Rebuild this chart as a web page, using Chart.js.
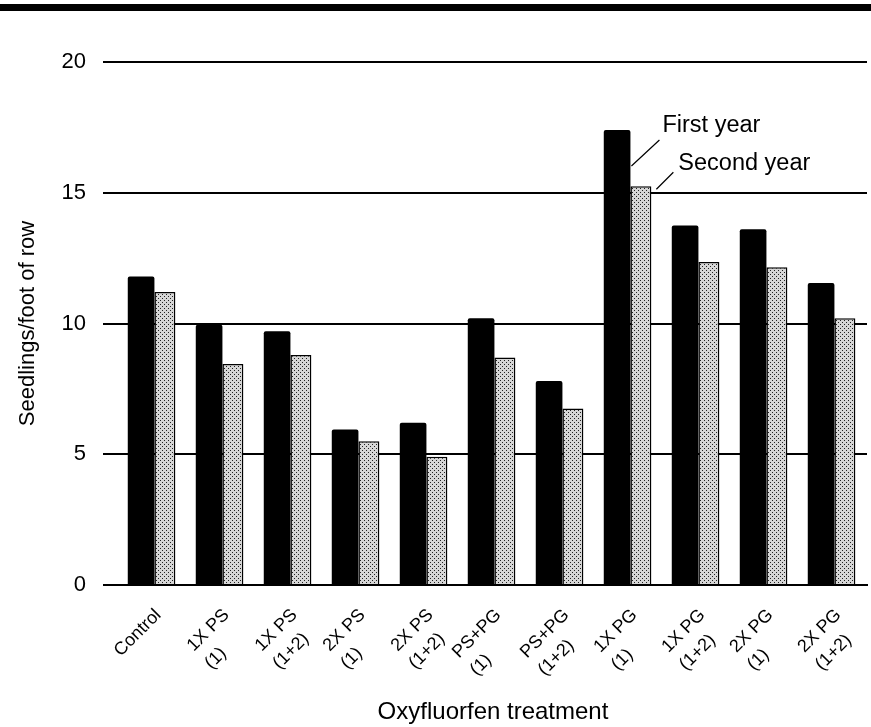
<!DOCTYPE html>
<html>
<head>
<meta charset="utf-8">
<script src="https://cdn.jsdelivr.net/npm/chart.js@4/dist/chart.umd.min.js"></script>
<style>
  html, body { margin: 0; padding: 0; background: #fff; }
  #wrap { position: relative; width: 871px; height: 727px; }
  #rule { position: absolute; left: 0; top: 4px; width: 871px; height: 7px; background: #000; }
</style>
</head>
<body>
<div id="wrap">
  <div id="rule"></div>
  <canvas id="c"></canvas>
</div>
<script>
// ---- data ----
const categories = [
  ['Control'],
  ['1X PS', '(1)'],
  ['1X PS', '(1+2)'],
  ['2X PS', '(1)'],
  ['2X PS', '(1+2)'],
  ['PS+PG', '(1)'],
  ['PS+PG', '(1+2)'],
  ['1X PG', '(1)'],
  ['1X PG', '(1+2)'],
  ['2X PG', '(1)'],
  ['2X PG', '(1+2)']
];
const firstYear  = [11.8, 9.95, 9.7, 5.95, 6.2, 10.2, 7.8, 17.4, 13.75, 13.6, 11.55];
const secondYear = [11.2, 8.45, 8.8, 5.5, 4.9, 8.7, 6.75, 15.25, 12.35, 12.15, 10.2];
const seriesNames = ['First year', 'Second year'];
const yTicks = [0, 5, 10, 15, 20];
const yTitle = 'Seedlings/foot of row';
const xTitle = 'Oxyfluorfen treatment';
const annotatedCategory = 7; // 1X PG (1)

const FONT = "'Liberation Sans', Arial, Helvetica, sans-serif";
Chart.defaults.font.family = FONT;
Chart.defaults.color = '#000';

function makeStipple() {
  const c = document.createElement('canvas');
  c.width = 4; c.height = 4;
  const g = c.getContext('2d');
  g.fillStyle = '#d6d6d6';
  g.fillRect(0, 0, 4, 4);
  g.fillStyle = '#222';
  g.fillRect(0, 0, 1, 1);
  g.fillRect(2, 2, 1, 1);
  return g.createPattern(c, 'repeat');
}

const annotationPlugin = {
  id: 'seriesNotes',
  afterDatasetsDraw(chart) {
    const ctx = chart.ctx;
    const b1 = chart.getDatasetMeta(0).data[annotatedCategory];
    const b2 = chart.getDatasetMeta(1).data[annotatedCategory];
    if (!b1 || !b2) return;
    const r1 = b1.x + b1.width / 2, t1 = b1.y;
    const r2 = b2.x + b2.width / 2, t2 = b2.y;
    ctx.save();
    ctx.strokeStyle = '#000';
    ctx.lineWidth = 1.2;
    ctx.beginPath();
    ctx.moveTo(r1 + 1, t1 + 36);
    ctx.lineTo(r1 + 29, t1 + 10);
    ctx.moveTo(r2 + 5, t2 + 3);
    ctx.lineTo(r2 + 22, t2 - 14);
    ctx.stroke();
    ctx.fillStyle = '#000';
    ctx.font = '23.5px ' + FONT;
    ctx.textAlign = 'left';
    ctx.textBaseline = 'alphabetic';
    ctx.fillText(seriesNames[0], r1 + 32, t1 + 2);
    ctx.fillText(seriesNames[1], r2 + 27, t2 - 16);
    ctx.restore();
  }
};

// rotated category labels: first line ends at the tick, next lines left-aligned under it
const xLabelPlugin = {
  id: 'xLabels',
  afterDraw(chart) {
    const sx = chart.scales.x;
    const ctx = chart.ctx;
    ctx.save();
    ctx.font = '18px ' + FONT;
    ctx.fillStyle = '#000';
    categories.forEach((lines, i) => {
      const px = sx.getPixelForTick(i);
      ctx.save();
      ctx.translate(px - 1, chart.chartArea.bottom + 21);
      ctx.rotate(-Math.PI / 4);
      ctx.textBaseline = 'top';
      ctx.textAlign = 'right';
      ctx.fillText(lines[0], 0, 0);
      const w1 = ctx.measureText(lines[0]).width;
      ctx.textAlign = 'left';
      for (let k = 1; k < lines.length; k++) ctx.fillText(lines[k], -w1, 25 * k);
      ctx.restore();
    });
    ctx.restore();
  }
};

new Chart(document.getElementById('c'), {
  type: 'bar',
  data: {
    labels: categories,
    datasets: [
      {
        label: seriesNames[0],
        data: firstYear,
        backgroundColor: '#000',
        borderColor: '#000',
        borderWidth: 0,
        borderRadius: 2,
        barPercentage: 1.12,
        categoryPercentage: 0.7
      },
      {
        label: seriesNames[1],
        data: secondYear,
        backgroundColor: makeStipple(),
        borderColor: '#000',
        borderWidth: 1.5,
        borderSkipped: 'bottom',
        barPercentage: 0.88,
        categoryPercentage: 0.7
      }
    ]
  },
  options: {
    responsive: true,
    maintainAspectRatio: false,
    animation: false,
    events: [],
    layout: { padding: { top: 62, right: 4, bottom: 0, left: 0 } },
    plugins: {
      legend: { display: false },
      tooltip: { enabled: false },
      title: { display: false }
    },
    scales: {
      x: {
        grid: { display: false, drawTicks: false },
        border: { display: true, color: '#000', width: 2 },
        ticks: { display: false, autoSkip: false },
        title: {
          display: true,
          text: xTitle,
          font: { size: 24 },
          color: '#000',
          padding: { top: 0, bottom: 0 }
        },
        afterFit(scale) {
          scale.height = 142;
          scale.paddingLeft = 0;
          scale.paddingRight = 0;
        }
      },
      y: {
        min: 0,
        max: 20,
        afterBuildTicks(scale) { scale.ticks = yTicks.map(v => ({ value: v })); },
        grid: { color: '#000', lineWidth: 2, drawTicks: true, tickLength: 16, tickColor: '#000' },
        border: { display: false },
        ticks: { padding: 17, font: { size: 22 }, color: '#000' },
        title: {
          display: true,
          text: yTitle,
          font: { size: 22 },
          color: '#000',
          padding: { top: 15, bottom: 0 }
        },
        afterFit(scale) { scale.width = 119; }
      }
    }
  },
  plugins: [annotationPlugin, xLabelPlugin]
});
</script>
</body>
</html>
